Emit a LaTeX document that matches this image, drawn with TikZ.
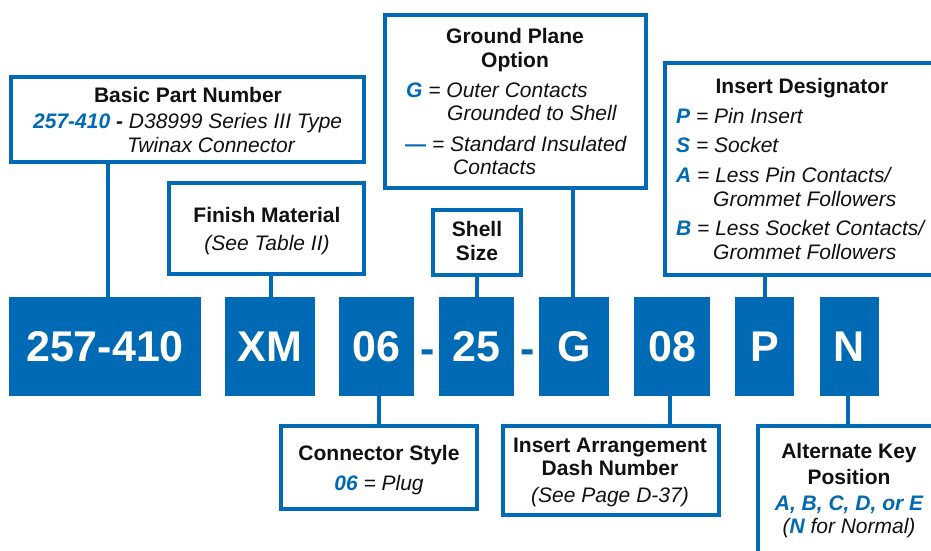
\documentclass[tikz,border=0pt]{standalone}
\usepackage{fontspec}
\setmainfont{Liberation Sans}
\definecolor{pnblue}{RGB}{0,106,180}
\definecolor{ink}{RGB}{17,17,17}
\newcommand{\bl}[1]{{\color{pnblue}\bfseries\itshape #1}}
\begin{document}
\begin{tikzpicture}[x=1pt,y=-1pt,
  box/.style={draw=pnblue,line width=4pt,fill=white,inner sep=0pt,rectangle},
  code/.style={fill=pnblue,text=white,inner sep=0pt,font=\fontsize{43}{43}\selectfont\bfseries},
  sep/.style={text=pnblue,inner sep=0pt,anchor=base,font=\fontsize{43}{43}\selectfont\bfseries},
  stem/.style={draw=pnblue,line width=4pt},
  head/.style={inner sep=0pt,anchor=base,text=ink,font=\fontsize{21}{24}\selectfont\bfseries},
  body/.style={inner sep=0pt,anchor=base,text=ink,font=\fontsize{21}{24}\selectfont\itshape},
  bodyl/.style={body,anchor=base west}]
\clip (0,0) rectangle (931,550);
\fill[white] (0,0) rectangle (931,550);

% code boxes
\node[code,minimum width=192pt,minimum height=99pt] (c1) at (105,346.5) {257-410};
\node[code,minimum width=90pt,minimum height=99pt] (c2) at (270,346.5) {XM};
\node[code,minimum width=75pt,minimum height=99pt] (c3) at (376.5,346.5) {06};
\node[code,minimum width=75pt,minimum height=99pt] (c4) at (476.5,346.5) {25};
\node[code,minimum width=70pt,minimum height=99pt] (c5) at (574,346.5) {G};
\node[code,minimum width=76pt,minimum height=99pt] (c6) at (672,346.5) {08};
\node[code,minimum width=59pt,minimum height=99pt] (c7) at (764.5,346.5) {P};
\node[code,minimum width=59pt,minimum height=99pt] (c8) at (849.5,346.5) {N};
\node[sep] (d1) at (427.5,363) {-};
\node[sep] (d2) at (527.5,363) {-};

% label boxes
\node[box,minimum width=353pt,minimum height=85pt] (bpn) at (187.5,119.5) {};
\node[box,minimum width=195pt,minimum height=91pt] (fin) at (266.5,228.5) {};
\node[box,minimum width=261pt,minimum height=173pt] (gpo) at (515.5,101.5) {};
\node[box,minimum width=88pt,minimum height=65pt] (shs) at (477,242.5) {};
\node[box,minimum width=293pt,minimum height=212pt] (ind) at (811.5,169) {};
\node[box,minimum width=196pt,minimum height=83pt] (cst) at (379,467.5) {};
\node[box,minimum width=216pt,minimum height=89pt] (iad) at (611,470.5) {};
\node[box,minimum width=200pt,minimum height=152pt] (akp) at (858,502) {};

% connectors
\draw[stem] ([xshift=3pt]c1.north) -- ([xshift=3pt]c1.north |- bpn.south);
\draw[stem] ([xshift=1pt]c2.north) -- ([xshift=1pt]c2.north |- fin.south);
\draw[stem] ([xshift=0.5pt]c4.north) -- ([xshift=0.5pt]c4.north |- shs.south);
\draw[stem] ([xshift=-1pt]c5.north) -- ([xshift=-1pt]c5.north |- gpo.south);
\draw[stem] ([xshift=0.5pt]c7.north) -- ([xshift=0.5pt]c7.north |- ind.south);
\draw[stem] ([xshift=2.5pt]c3.south) -- ([xshift=2.5pt]c3.south |- cst.north);
\draw[stem] ([xshift=-2pt]c6.south) -- ([xshift=-2pt]c6.south |- iad.north);
\draw[stem] ([xshift=-1.5pt]c8.south) -- ([xshift=-1.5pt]c8.south |- akp.north);

% Basic Part Number
\node[head] (t1) at (188,102) {Basic Part Number};
\node[bodyl] (t2) at (33,128) {\bl{257-410} \textbf{-} D38999 Series III Type};
\node[bodyl] (t3) at (127,152) {Twinax Connector};

% Finish Material
\node[head] (t4) at (267,222) {Finish Material};
\node[body] (t5) at (267,250) {(See Table II)};

% Ground Plane Option
\node[head] (t6) at (515,43) {Ground Plane};
\node[head] (t7) at (515,67) {Option};
\node[bodyl] (t8) at (406,97) {\bl{G} = Outer Contacts};
\node[bodyl] (t9) at (447,120) {Grounded to Shell};
\node[bodyl] (t10) at (405,151) {{\color{pnblue}\bfseries\upshape —} = Standard Insulated};
\node[bodyl] (t11) at (453,174) {Contacts};

% Shell Size
\node[head] (t12) at (477,236) {Shell};
\node[head] (t13) at (477,260) {Size};

% Insert Designator
\node[head] (t14) at (802,93) {Insert Designator};
\node[bodyl] (t15) at (676,123) {\bl{P} = Pin Insert};
\node[bodyl] (t16) at (676,152) {\bl{S} = Socket};
\node[bodyl] (t17) at (676,182) {\bl{A} = Less Pin Contacts/};
\node[bodyl] (t18) at (713,206) {Grommet Followers};
\node[bodyl] (t19) at (676,235) {\bl{B} = Less Socket Contacts/};
\node[bodyl] (t20) at (713,259) {Grommet Followers};

% Connector Style
\node[head] (t21) at (379,460) {Connector Style};
\node[body] (t22) at (379,490) {\bl{06} = Plug};

% Insert Arrangement
\node[head] (t23) at (610,452) {Insert Arrangement};
\node[head] (t24) at (610,475) {Dash Number};
\node[body] (t25) at (610,502) {(See Page D-37)};

% Alternate Key Position
\node[head] (t26) at (849,458) {Alternate Key};
\node[head] (t27) at (849,484) {Position};
\node[body] (t28) at (849,510) {\bl{A, B, C, D, or E}};
\node[body] (t29) at (849,533) {(\bl{N} for Normal)};
\end{tikzpicture}
\end{document}
